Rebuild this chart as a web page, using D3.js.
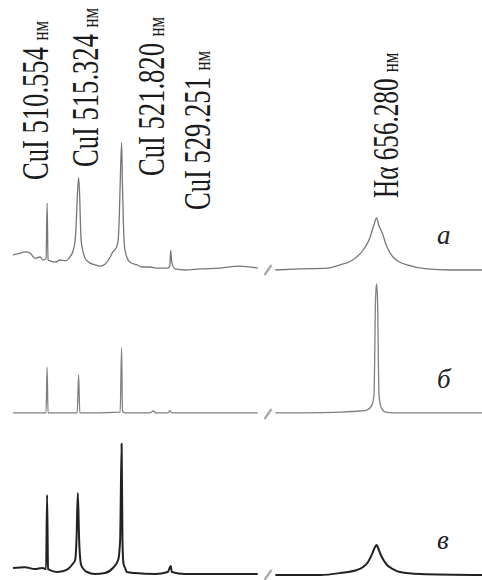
<!DOCTYPE html>
<html>
<head>
<meta charset="utf-8">
<script src="https://cdn.jsdelivr.net/npm/d3@7"></script>
<style>
  body { margin: 0; background: #fff; }
</style>
</head>
<body>
<script>
// emission lines (nm) and their captions
let lineNames = ["CuI 510.554", "CuI 515.324", "CuI 521.820", "CuI 529.251", "H\u03B1 656.280"];
let lineWaves = [510.554, 515.324, 521.820, 529.251, 656.280];
let panelNames = ["а", "б", "в"];

// spectra: [wavelength nm, intensity a.u.]
let spectrumA = [
  [505.4, 11.5], [506.5, 13], [507.2, 14], [508.0, 13], [508.7, 9], [509.5, 10], [509.9, 7.7],
  [510.4, 8.5], [510.554, 51.5], [510.7, 7.7], [511.0, 7], [511.75, 6], [512.5, 7.7], [513.3, 7],
  [514.0, 10], [514.5, 15], [514.8, 23], [514.95, 35], [515.1, 54], [515.324, 71], [515.5, 54],
  [515.6, 35], [515.7, 23], [516.0, 14], [516.3, 9], [517.0, 5.5], [517.8, 4], [518.55, 3],
  [519.3, 4.5], [520.1, 10], [520.5, 14], [521.0, 17], [521.3, 23], [521.45, 38], [521.6, 65],
  [521.82, 98], [521.95, 65], [522.1, 35], [522.2, 21.5], [522.35, 15], [522.6, 10], [523.1, 6],
  [524.15, 4], [524.9, 2.3], [526.1, 2.3], [527.3, 1.5], [528.8, 1.5], [529.1, 3], [529.251, 15],
  [529.4, 6], [529.9, 0.8], [531.4, 0], [533.7, 0.8], [536.7, 1.5], [539.7, 3], [542.4, 1.5],
  [641.0, 0], [644.7, 0.8], [648.8, 1.5], [650.8, 4], [652.7, 7.7], [654.2, 15], [655.3, 25],
  [655.9, 35], [656.28, 40], [656.65, 34], [657.1, 29], [657.86, 17.7], [658.76, 10], [659.8, 6],
  [660.9, 4], [663.9, 0.8], [667.4, 0], [672.2, 0]
];
let spectrumB = [
  [505.4, 0.8], [510.4, 0.8], [510.554, 36], [510.7, 0.8], [515.1, 0.8], [515.324, 30], [515.5, 0.8],
  [521.6, 1.5], [521.82, 51], [521.95, 2.3], [522.35, 0.8], [526.1, 0.8], [526.6, 2.3], [527.0, 0.8],
  [528.8, 0.8], [529.1, 2.3], [529.4, 0.8], [542.4, 0.8],
  [641.0, 0.8], [650.8, 1.5], [653.8, 2.3], [654.8, 3], [655.6, 7], [655.9, 15], [656.13, 88],
  [656.28, 100], [656.43, 88], [656.65, 15], [657.0, 4.6], [657.6, 1.5], [659.8, 0.8], [672.2, 0.8]
];
let spectrumC = [
  [505.4, 5.4], [507.2, 6], [508.7, 4.6], [509.8, 5.4], [510.4, 4.6], [510.554, 61.5], [510.7, 4.6],
  [511.0, 3.8], [512.2, 2.3], [513.7, 4.6], [514.5, 9], [514.8, 11.5], [515.0, 27], [515.2, 63],
  [515.4, 27], [515.7, 7.7], [516.2, 3.8], [516.6, 2.3], [517.8, 0.8], [519.3, 1.5], [520.5, 5.4],
  [521.3, 11.5], [521.6, 27], [521.82, 101], [521.95, 27], [522.1, 9], [522.35, 5.4], [522.6, 2.3],
  [523.85, 1.5], [526.9, 0.8], [528.8, 2.3], [529.251, 7], [529.4, 2.3], [531.4, 0.8], [542.4, 0.8],
  [641.0, 0], [647.75, 0], [650.8, 1.5], [653.3, 3.8], [654.2, 6], [655.0, 10], [655.6, 16],
  [656.05, 21.5], [656.28, 23], [656.5, 21], [657.0, 14.6], [657.86, 7.7], [658.76, 4.6],
  [659.8, 2.3], [662.8, 0.8], [672.2, 0]
];

let svgWidth = 482;
let svgHeight = 580;

let svg = d3.select("body")
    .append("svg")
    .attr("width", svgWidth)
    .attr("height", svgHeight)

// broken wavelength axis: 505-543 nm | 640-672 nm
let xScale = d3.scaleLinear()
    .domain([505.4, 543.5, 640.5, 672.2])
    .range([13, 265, 272, 482]);

let panels = [
    { data: spectrumA, base: 270, color: "#777", width: 1.3 },
    { data: spectrumB, base: 414, color: "#808080", width: 1.3 },
    { data: spectrumC, base: 575, color: "#222", width: 2 }
];

panels.forEach(function (p, i) {
    let yScale = d3.scaleLinear()
        .domain([0, 100])
        .range([p.base, p.base - 130]);

    let line = d3.line()
        .x(d => xScale(d[0]))
        .y(d => yScale(d[1]))
        .curve(d3.curveMonotoneX);

    let parts = [p.data.filter(d => d[0] < 590), p.data.filter(d => d[0] > 590)];
    parts.forEach(function (part) {
        svg.append("path")
            .datum(part)
            .attr("d", line)
            .attr("fill", "none")
            .attr("stroke", p.color)
            .attr("stroke-width", p.width)
            .attr("stroke-linejoin", "round");
    });

    // break mark
    let bx = (xScale(543.5) + xScale(640.5)) / 2;
    let by = yScale(0);
    svg.append("line")
        .attr("x1", bx - 4).attr("y1", by + 5)
        .attr("x2", bx + 3).attr("y2", by - 5)
        .attr("stroke", "#a8a8a8")
        .attr("stroke-width", 2.2);

    svg.append("text")
        .attr("x", 437)
        .attr("y", yScale(0) - 26)
        .attr("style", "font-family: 'Liberation Serif', serif; font-style: italic; font-size: 27px; fill: #222")
        .text(panelNames[i]);
});

// rotated line captions
let captionPos = [
    { dx: 1, y: 180, size: 38 },
    { dx: 19, y: 167, size: 38 },
    { dx: 42, y: 176, size: 38 },
    { dx: 39, y: 210, size: 38 },
    { dx: 21, y: 198, size: 36 }
];

lineNames.forEach(function (name, i) {
    let c = captionPos[i];
    let t = svg.append("text")
        .attr("transform", `translate(${xScale(lineWaves[i]) + c.dx},${c.y}) rotate(-90) scale(0.7,1)`)
        .attr("style", `font-family: 'Liberation Serif', 'Times New Roman', serif; font-size: ${c.size}px; fill: #1a1a1a`);
    t.append("tspan").text(name + " ");
    t.append("tspan").attr("font-size", 24).text("нм");
});
</script>
</body>
</html>
